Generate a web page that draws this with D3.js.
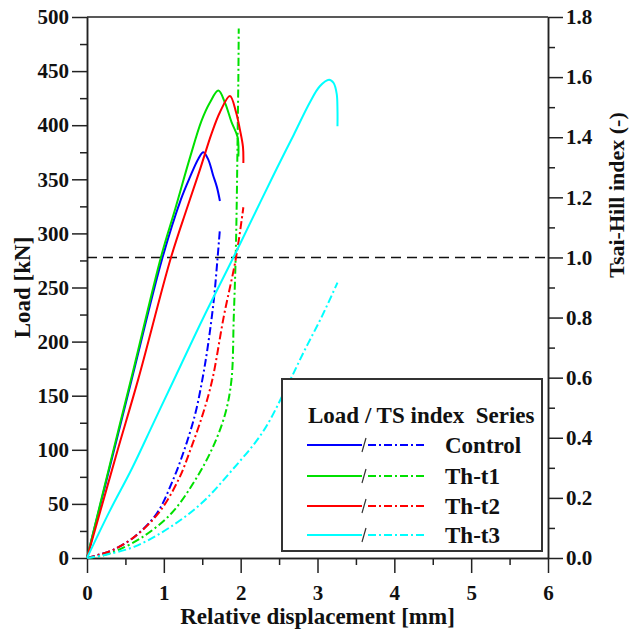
<!DOCTYPE html>
<html><head><meta charset="utf-8">
<script src="https://cdn.jsdelivr.net/npm/d3@7/dist/d3.min.js"></script>
<style>body{margin:0;background:#fff}svg{display:block}text{font-family:"Liberation Serif","Times New Roman",serif;font-weight:bold;fill:#111;white-space:pre}</style>
</head><body><svg id="c" width="633" height="632"></svg>
<script>
// ---- data (displacement mm, load kN) ----
const seriesNames = ["Control","Th-t1","Th-t2","Th-t3"];
const seriesColors = ["#0000ff","#00e000","#ff0000","#00ffff"];
const controlLoad = [[0,0],[0.3,85],[0.58,164.5],[0.98,277],[1.22,331],[1.34,352],[1.45,369],[1.514,375],[1.58,368],[1.64,354],[1.69,343],[1.73,330]];
const tht1Load = [[0,0],[0.3,87],[0.58,167],[0.97,280],[1.15,323],[1.34,370],[1.49,404],[1.60,421],[1.71,432],[1.80,420],[1.88,403],[1.96,389],[1.97,371]];
const tht2Load = [[0,0],[0.2,50],[0.4,100],[0.67,166],[1.09,277],[1.30,323],[1.47,359],[1.62,392],[1.73,412],[1.86,427],[1.94,412],[1.99,396],[2.03,380],[2.035,365]];
const tht3Load = [[0,0],[0.3,44],[0.58,82],[0.86,124],[1.13,164.5],[1.5,220],[1.9,277],[2.27,331],[2.47,360],[2.69,391],[2.9,421],[3.03,436],[3.15,442],[3.21,439],[3.25,429],[3.26,414],[3.26,399]];
// ---- Tsai-Hill index ----
const controlTH = [[0,0],[0.14,0.01],[0.34,0.027],[0.62,0.071],[0.91,0.149],[1.12,0.26],[1.28,0.37],[1.41,0.481],[1.50,0.592],[1.57,0.70],[1.65,0.858],[1.70,1.0],[1.73,1.094]];
const tht1TH = [[0,0],[0.2,0.008],[0.41,0.027],[0.73,0.071],[1.10,0.149],[1.41,0.26],[1.64,0.37],[1.80,0.481],[1.88,0.592],[1.91,0.8],[1.935,1.0],[1.95,1.2],[1.96,1.4],[1.97,1.6],[1.975,1.762]];
const tht2TH = [[0,0],[0.14,0.01],[0.34,0.027],[0.62,0.071],[0.93,0.149],[1.19,0.26],[1.36,0.37],[1.51,0.481],[1.63,0.592],[1.78,0.803],[1.94,1.0],[2.035,1.167]];
const tht3TH = [[0,0],[0.23,0.01],[0.62,0.038],[1.06,0.099],[1.49,0.182],[1.88,0.29],[2.29,0.42],[2.62,0.58],[2.83,0.69],[3.05,0.80],[3.26,0.916]];
const xTicks = [0,1,2,3,4,5,6];
const yLTicks = [0,50,100,150,200,250,300,350,400,450,500];
const yRTicks = [0,0.2,0.4,0.6,0.8,1.0,1.2,1.4,1.6,1.8];
const thresholdTH = 1.0;

const loadSeries = [controlLoad,tht1Load,tht2Load,tht3Load];
const thSeries = [controlTH,tht1TH,tht2TH,tht3TH];

const svg = d3.select("#c");
const L=87,R=548,T=17,B=558;
const x = d3.scaleLinear().domain([0,6]).range([L,R]);
const yL = d3.scaleLinear().domain([0,500]).range([B,T]);
const yR = d3.scaleLinear().domain([0,1.8]).range([B,T]);

svg.append("line").attr("x1",L).attr("x2",R).attr("y1",T).attr("y2",T).attr("stroke","#222").attr("stroke-width",1.5);

function styleAxis(g){g.selectAll("path").attr("stroke","#222").attr("stroke-width",1.5);g.selectAll("line").attr("stroke","#222").attr("stroke-width",1.5);g.selectAll("text").attr("font-size",21);}

svg.append("g").attr("transform",`translate(0,${B})`).call(d3.axisBottom(x).tickValues(d3.range(0.5,6,1)).tickSize(7).tickSizeOuter(0).tickFormat("")).call(styleAxis);
svg.append("g").attr("transform",`translate(0,${B})`).call(d3.axisBottom(x).tickValues(xTicks).tickSize(15).tickSizeOuter(0).tickPadding(12).tickFormat(d3.format("d"))).call(styleAxis);
svg.append("g").attr("transform",`translate(${L},0)`).call(d3.axisLeft(yL).tickValues(d3.range(25,500,50)).tickSize(7).tickSizeOuter(0).tickFormat("")).call(styleAxis);
svg.append("g").attr("transform",`translate(${L},0)`).call(d3.axisLeft(yL).tickValues(yLTicks).tickSize(15).tickSizeOuter(0).tickPadding(3).tickFormat(d3.format("d"))).call(styleAxis);
svg.append("g").attr("transform",`translate(${R},0)`).call(d3.axisRight(yR).tickValues(d3.range(0.1,1.8,0.2)).tickSize(7).tickSizeOuter(0).tickFormat("")).call(styleAxis);
svg.append("g").attr("transform",`translate(${R},0)`).call(d3.axisRight(yR).tickValues(yRTicks).tickSize(15).tickSizeOuter(0).tickPadding(3).tickFormat(d3.format(".1f"))).call(styleAxis);

svg.append("text").attr("x",(L+R)/2).attr("y",624).attr("text-anchor","middle").attr("font-size",23).text("Relative displacement [mm]");
svg.append("text").attr("transform",`translate(30,${(T+B)/2}) rotate(-90)`).attr("text-anchor","middle").attr("font-size",23).text("Load [kN]");
svg.append("text").attr("transform",`translate(624,195) rotate(-90)`).attr("text-anchor","middle").attr("font-size",22).text("Tsai-Hill index (-)");

svg.append("line").attr("x1",L).attr("x2",R).attr("y1",yR(thresholdTH)).attr("y2",yR(thresholdTH)).attr("stroke","#111").attr("stroke-width",1.6).attr("stroke-dasharray","10,6");

const lineL = d3.line().x(d=>x(d[0])).y(d=>yL(d[1])).curve(d3.curveCatmullRom.alpha(0.5));
const lineR = d3.line().x(d=>x(d[0])).y(d=>yR(d[1])).curve(d3.curveCatmullRom.alpha(0.5));
const dashDot = "8,3,2,3";

thSeries.forEach((s,i)=>{
  svg.append("path").attr("d",lineR(s)).attr("fill","none").attr("stroke",seriesColors[i]).attr("stroke-width",2).attr("stroke-dasharray",dashDot);
});
loadSeries.forEach((s,i)=>{
  svg.append("path").attr("d",lineL(s)).attr("fill","none").attr("stroke",seriesColors[i]).attr("stroke-width",2);
});

const lg = svg.append("g");
lg.append("rect").attr("x",282).attr("y",379).attr("width",260).attr("height",172).attr("fill","#fff").attr("stroke","#333").attr("stroke-width",2);
lg.append("text").attr("x",308).attr("y",423).attr("font-size",23).text("Load / TS index  Series");
const rowY = [445,476,506,535];
seriesNames.forEach((n,i)=>{
  const y=rowY[i];
  lg.append("line").attr("x1",307).attr("x2",362).attr("y1",y).attr("y2",y).attr("stroke",seriesColors[i]).attr("stroke-width",2);
  lg.append("line").attr("x1",362).attr("x2",366).attr("y1",y+7).attr("y2",y-7).attr("stroke","#333").attr("stroke-width",1.2);
  lg.append("line").attr("x1",368).attr("x2",424).attr("y1",y).attr("y2",y).attr("stroke",seriesColors[i]).attr("stroke-width",2).attr("stroke-dasharray",dashDot);
  lg.append("text").attr("x",445).attr("y",y+8).attr("font-size",23).text(n);
});
</script></body></html>
